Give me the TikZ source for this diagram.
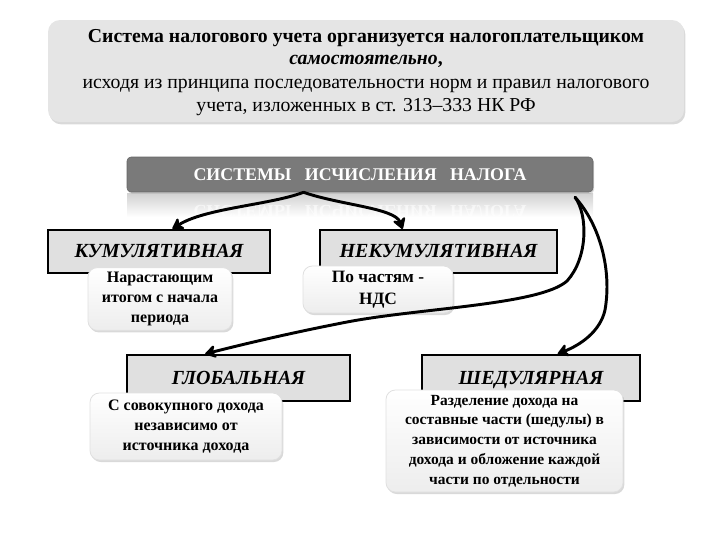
\documentclass[tikz,border=0pt]{standalone}
\usepackage{fontspec}
\setmainfont{Liberation Serif}
\usetikzlibrary{shadows,arrows.meta,calc}
\begin{document}
\begin{tikzpicture}[x=0.75pt,y=-0.75pt,
  topbox/.style={rounded corners=9pt, fill=black!10, draw=none, align=center,
    drop shadow={opacity=0.3, shadow xshift=1pt, shadow yshift=-1.8pt}},
  topline/.style={inner sep=0pt, anchor=base, font=\fontsize{14.8}{17.8}\selectfont},
  hdrbox/.style={rounded corners=3pt, fill=black!52, draw=black!60, align=center,
    text=white, font=\bfseries\fontsize{13.4}{15}\selectfont,
    drop shadow={opacity=0.3, shadow xshift=0.8pt, shadow yshift=-1.2pt}},
  catbox/.style={fill=black!12, draw=black, line width=1.6pt,
    text height=11pt, text depth=2pt,
    font=\bfseries\itshape\fontsize{15}{17}\selectfont},
  notebox/.style={rounded corners=7pt, top color=white, bottom color=black!7,
    draw=black!12, line width=0.6pt, align=center,
    font=\bfseries\fontsize{12}{15}\selectfont,
    drop shadow={opacity=0.3, shadow xshift=1pt, shadow yshift=-1.5pt}},
  conn/.style={line width=2.2pt, line cap=round,
    -{Stealth[round, length=10pt, width=12pt]}}
]
\useasboundingbox (0,0) rectangle (720,540);

% top box
\node[topbox, minimum width=477pt, minimum height=76.5pt] (top) at (366,71) {};
\node[topline] (t1) at (366,42) {\textbf{Система налогового учета организуется налогоплательщиком}};
\node[topline] (t2) at (366,64) {\textbf{\textit{самостоятельно},}};
\node[topline] (t3) at (366,88) {исходя из принципа последовательности норм и правил налогового};
\node[topline] (t4) at (366,111) {учета, изложенных в ст. 313–333 НК РФ};

% header reflection
\shade[top color=black!18, bottom color=white] (127,193) rectangle (593,217);
\node[text=white, opacity=0.6, yscale=-1, font=\bfseries\fontsize{13.4}{15}\selectfont] (refl) at (360,211)
  {СИСТЕМЫ\ \ \ ИСЧИСЛЕНИЯ\ \ \ НАЛОГА};

% header
\node[hdrbox, minimum width=349.5pt, minimum height=26.25pt] (hdr) at (360,174.5)
  {СИСТЕМЫ\ \ \ ИСЧИСЛЕНИЯ\ \ \ НАЛОГА};

% category boxes
\node[catbox, minimum width=166.5pt, minimum height=32.25pt] (kum) at (159,251.5) {КУМУЛЯТИВНАЯ};
\node[catbox, minimum width=177.75pt, minimum height=32.25pt] (nekum) at (438.5,251.5) {НЕКУМУЛЯТИВНАЯ};
\node[catbox, minimum width=167.25pt, minimum height=34.5pt] (glob) at (238.5,378) {ГЛОБАЛЬНАЯ};
\node[catbox, minimum width=163.5pt, minimum height=34.5pt] (shed) at (531,378) {ШЕДУЛЯРНАЯ};

% note boxes
\node[notebox, minimum width=108pt, minimum height=46.5pt] (n1) at (160,299)
  {\raisebox{-2pt}{\parbox{100pt}{\centering Нарастающим\\итогом с начала\\периода}}};
\node[notebox, minimum width=112.5pt, minimum height=35.25pt, font=\bfseries\fontsize{13}{17}\selectfont] (n2) at (378,289.5)
  {\raisebox{-4pt}{\parbox{100pt}{\centering По частям -\\НДС}}};
\node[notebox, minimum width=144pt, minimum height=50.25pt] (n3) at (186,426.5)
  {\raisebox{-1.5pt}{\parbox{136pt}{\centering С совокупного дохода\\независимо от\\источника дохода}}};
\node[notebox, minimum width=177.75pt, minimum height=76.5pt, font=\bfseries\fontsize{11.6}{14.8}\selectfont] (n4) at (504.5,441)
  {\raisebox{-1.5pt}{\parbox{170pt}{\centering Разделение дохода на\\составные части (шедулы) в\\зависимости от источника\\дохода и обложение каждой\\части по отдельности}}};

% connectors
\coordinate (s1) at ($(hdr.south west)!0.379!(hdr.south east)$);
\coordinate (s2) at ($(hdr.south west)!0.961!(hdr.south east)+(0,5)$);
\draw[conn] (s1) .. controls (270,205) and (205,208) .. ([xshift=10pt]kum.north);
\draw[conn] (s1) .. controls (340,205) and (395,208) .. ([xshift=-27pt]nekum.north);
\draw[conn] (s2) .. controls (588,215) and (588,258) .. (567,281)
  .. controls (540,305) and (420,308) .. (347,322)
  .. controls (290,333) and (240,345) .. ([xshift=-25pt]glob.north);
\draw[conn] (s2) .. controls (600,225) and (612,270) .. (605,310)
  .. controls (600,332) and (580,345) .. ([xshift=20pt]shed.north);
\end{tikzpicture}
\end{document}
